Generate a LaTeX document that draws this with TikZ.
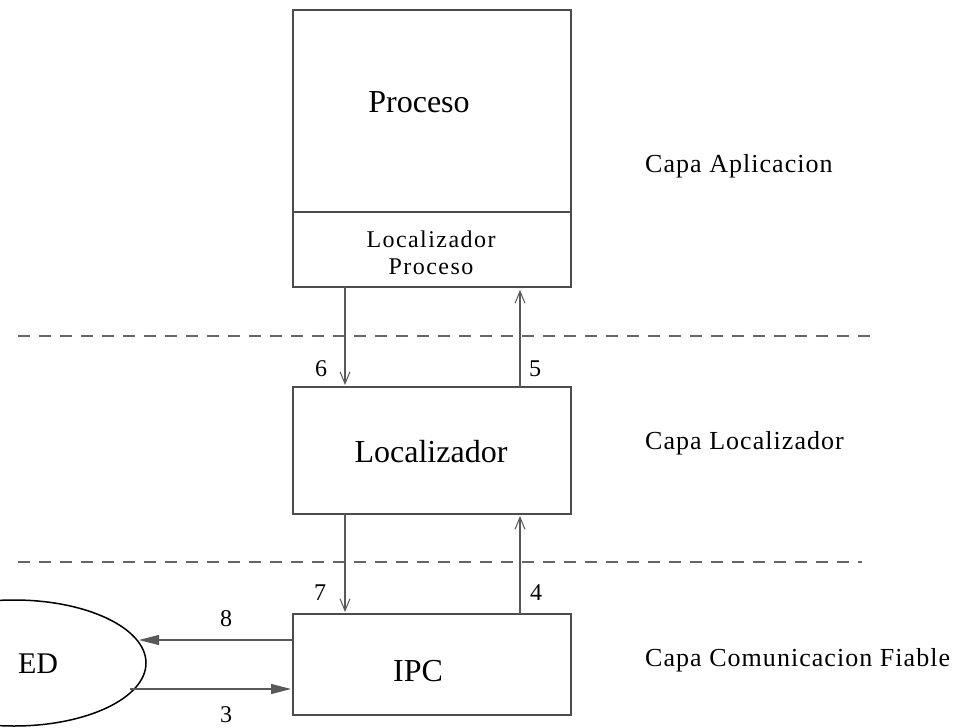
\documentclass[tikz,border=0pt]{standalone}
\usepackage{fontspec}
\setmainfont{Liberation Serif}
\newfontfamily\spacedA[LetterSpace=4]{Liberation Serif}
\newfontfamily\spacedB[LetterSpace=6]{Liberation Serif}
\usetikzlibrary{arrows.meta}
\begin{document}
\begin{tikzpicture}[x=1pt,y=-1pt,
  box/.style={draw=black!70,line width=1.2pt},
  conn/.style={draw=black!65,line width=1.1pt},
  vhead/.style={-{Straight Barb[length=12pt,width=10pt,line width=1pt]}},
  fhead/.style={-{Triangle[length=20pt,width=10pt]}},
  lbl/.style={font=\fontsize{24}{27}\selectfont,inner sep=0pt},
  small/.style={font=\spacedB\fontsize{24}{27}\selectfont,inner sep=0pt},
  txt/.style={font=\fontsize{32}{36}\selectfont,inner sep=0pt},
  layer/.style={font=\spacedA\fontsize{26}{30}\selectfont,anchor=west,inner sep=0pt},
  sep/.style={draw=black!60,line width=1.1pt,dash pattern=on 12pt off 9pt}]
\useasboundingbox (0,0) rectangle (959,728);
\fill[white] (0,0) rectangle (959,728);
% boxes
\draw[box] (293,10) rectangle (571,287);
\draw[box] (293,212) -- (571,212);
\node[txt] (proc) at (419,102) {Proceso};
\node[small,align=center] (locp) at (431,253) {Localizador\\Proceso};
\node[box,minimum width=278pt,minimum height=127pt,inner sep=0pt] (loc) at (432,450.5) {};
\node[txt] at (431,452) {Localizador};
\node[box,minimum width=278pt,minimum height=101pt,inner sep=0pt] (ipc) at (432,664.5) {};
\node[txt] at (418,671) {IPC};
% separators
\draw[sep] (18,336) -- (870,336);
\draw[sep] (18,562) -- (862,562);
% vertical arrows
\draw[conn,vhead] (345,287) -- (345,385);
\draw[conn,vhead] (520,387) -- (520,290);
\draw[conn,vhead] (345,514) -- (345,612);
\draw[conn,vhead] (520,614) -- (520,516);
\node[lbl] at (321,369) {6};
\node[lbl] at (535,369) {5};
\node[lbl] at (320,593) {7};
\node[lbl] at (536,593) {4};
% ellipse
\draw[black,line width=1.5pt] (14,663) ellipse [x radius=132pt,y radius=63pt];
\node[txt,font=\fontsize{30}{34}\selectfont] (ed) at (38,664) {ED};
\coordinate (e8) at (139,640);
\coordinate (e3) at (130,689);
\draw[conn,fhead] (293,640) -- (e8);
\draw[conn,fhead] (e3) -- (291,689);
\node[lbl] at (226,619) {8};
\node[lbl] at (226,715) {3};
% layers
\node[layer] at (645,166) {Capa Aplicacion};
\node[layer] at (645,443) {Capa Localizador};
\node[layer] at (645,660) {Capa Comunicacion Fiable};
\end{tikzpicture}
\end{document}
